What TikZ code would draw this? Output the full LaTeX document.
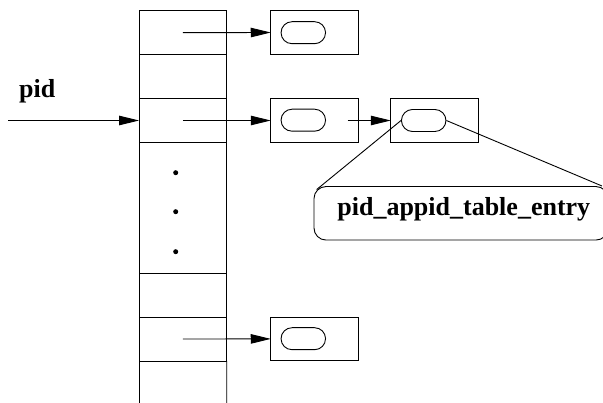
\documentclass[tikz,border=0pt]{standalone}
\usepackage{fontspec}
\setmainfont{Liberation Serif}
\usetikzlibrary{arrows.meta,calc}
\begin{document}
\begin{tikzpicture}[x=1pt,y=-1pt, line width=0.9pt,
  cell/.style={draw, minimum width=87.7pt, minimum height=44pt, inner sep=0pt, outer sep=0pt},
  ptrbox/.style={draw, minimum width=87.5pt, minimum height=43.5pt, inner sep=0pt, outer sep=0pt},
  oval/.style={draw, rounded corners=11pt, minimum width=44.5pt, minimum height=22pt, inner sep=0pt},
  arr/.style={-{Triangle[length=20pt,width=9.5pt]}},
  tabdot/.style={circle, fill, inner sep=0pt, minimum size=5pt},
  lbl/.style={font=\bfseries\fontsize{26}{31}\selectfont, inner sep=0pt}]
\useasboundingbox (0,0) rectangle (603,403);
% table cells
\node[cell] (c1) at (182.9,32.7) {};
\node[cell] (c2) at (182.9,76.7) {};
\node[cell] (c3) at (182.9,120.5) {};
\node[cell] (c4) at (182.9,295.3) {};
\node[cell] (c5) at (182.9,339.0) {};
\draw (c3.south west) -- (c4.north west);
\draw (c3.south east) -- (c4.north east);
\coordinate (bl) at (139.05,403);
\coordinate (br) at (226.75,403);
\draw (c5.south west) -- (bl);
\draw (c5.south east) -- (br);
% dots
\node[tabdot] (d1) at (175.7,172.7) {};
\node[tabdot] (d2) at (175.7,211.7) {};
\node[tabdot] (d3) at (175.7,251.7) {};
% pointer boxes
\node[ptrbox] (b1) at (314.5,32.5) {};
\node[ptrbox] (b2) at (314.5,120.5) {};
\node[ptrbox] (b3) at (434.5,120.5) {};
\node[ptrbox] (b4) at (314.5,338.9) {};
\node[oval] (o1) at (303.3,32.7) {};
\node[oval] (o2) at (303.3,120.2) {};
\node[oval] (o3) at (423.7,120.5) {};
\node[oval] (o4) at (303.3,338.7) {};
% arrows
\draw[arr] (c1.center) -- (b1.west);
\draw[arr] (c3.center) -- (b2.west);
\draw[arr] (c5.center) -- (b4.west);
\coordinate (s2) at (347.7,120.5);
\draw[arr] (s2) -- (b3.west);
\coordinate (pidstart) at (8,120.5);
\draw[arr] (pidstart) -- (c3.west);
\node[lbl, anchor=base west] (pid) at (18.8,97.3) {pid};
% entry label
\node[draw, rounded corners=12pt, minimum width=294pt, minimum height=53.5pt, inner sep=0pt] (entry) at (461,213.3) {};
\node[lbl, anchor=base] (entrytext) at (463.8,215.8) {pid\_appid\_table\_entry};
\coordinate (tl) at (316.7,189.5);
\coordinate (tr) at (602,186);
\draw (o3.west) -- (tl);
\draw (o3.east) -- (tr);
\end{tikzpicture}
\end{document}
